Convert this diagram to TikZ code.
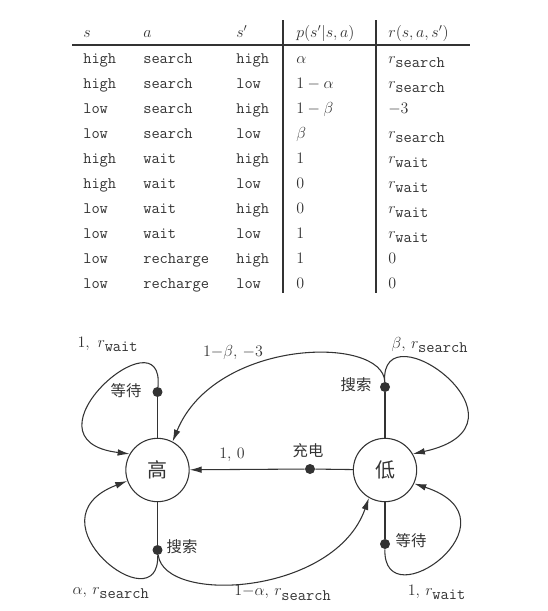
\documentclass[tikz,border=0pt]{standalone}
\usepackage{fontspec}
\usetikzlibrary{arrows.meta}
\newfontfamily\cjk{Noto Sans CJK SC}
\definecolor{ink}{HTML}{333333}
\begin{document}
\begin{tikzpicture}[x=0.75pt,y=-0.75pt,
  every node/.style={text=ink,font=\fontsize{12}{14}\selectfont},
  cell/.style={anchor=base west,inner sep=0pt},
  state/.style={draw=ink,circle,minimum size=47.5pt,inner sep=0pt,line width=0.8pt,font=\cjk\fontsize{15}{16}\selectfont},
  act/.style={circle,fill=ink,minimum size=7.5pt,inner sep=0pt},
  cn/.style={font=\cjk\fontsize{11.5}{13}\selectfont,inner sep=1pt},
  lab/.style={inner sep=1pt},
  conn/.style={draw=ink,line width=0.8pt},
  arr/.style={conn,-{Latex[length=9pt,width=5pt]}}
]
\useasboundingbox (0,0) rectangle (548,611);
% ---------- table ----------
\draw[conn] (72,45) -- (470,45);
\draw[conn] (283,20) -- (283,293);
\draw[conn] (376,20) -- (376,293);
\node[cell] (th1) at (83,37) {$s$};
\node[cell] (th2) at (143,37) {$a$};
\node[cell] (th3) at (236,37) {$s'$};
\node[cell] (th4) at (296,37) {$p(s'|s,a)$};
\node[cell] (th5) at (388,37) {$r(s,a,s')$};
\foreach \s/\a/\t/\p/\r [count=\i] in {
  high/search/high/$\alpha$/$r_{\texttt{search}}$,
  high/search/low/$1-\alpha$/$r_{\texttt{search}}$,
  low/search/high/$1-\beta$/$-3$,
  low/search/low/$\beta$/$r_{\texttt{search}}$,
  high/wait/high/$1$/$r_{\texttt{wait}}$,
  high/wait/low/$0$/$r_{\texttt{wait}}$,
  low/wait/high/$0$/$r_{\texttt{wait}}$,
  low/wait/low/$1$/$r_{\texttt{wait}}$,
  low/recharge/high/$1$/$0$,
  low/recharge/low/$0$/$0$}{
  \pgfmathsetmacro{\yy}{63+25*(\i-1)}
  \node[cell] (r\i c1) at (83,\yy) {\texttt{\s}};
  \node[cell] (r\i c2) at (143,\yy) {\texttt{\a}};
  \node[cell] (r\i c3) at (236,\yy) {\texttt{\t}};
  \node[cell] (r\i c4) at (296,\yy) {\p};
  \node[cell] (r\i c5) at (388,\yy) {\r};
}
% ---------- diagram ----------
\node[state] (H) at (157.5,470) {高};
\node[state] (L) at (385,470) {低};
\node[act] (d1) at (157.5,392) {};
\node[act] (d2) at (385,387) {};
\node[act] (d3) at (310,469) {};
\node[act] (d4) at (157.5,550) {};
\node[act] (d5) at (385,544) {};
% lines state -> action
\draw[conn] (H) -- (d1);
\draw[conn] (L) -- (d2);
\draw[conn] (L) -- (d3);
\draw[conn] (H) -- (d4);
\draw[conn] (L) -- (d5);
% transitions
\draw[arr] (d1) .. controls (165,310) and (15,440) .. (H.150);
\draw[arr] (d2) .. controls (383,335) and (215,338) .. (H.62);
\draw[arr] (d2) .. controls (380,305) and (545,425) .. (L.30);
\draw[arr] (d3) -- (H);
\draw[arr] (d4) .. controls (160,625) and (25,520) .. (H.200);
\draw[arr] (d4) .. controls (165,605) and (335,595) .. (L.240);
\draw[arr] (d5) .. controls (383,622) and (525,520) .. (L.335);
% labels
\node[lab] (l1) at (108,344) {$1,\ r_{\texttt{wait}}$};
\node[lab] (l2) at (233,352) {$1{-}\beta,\,-3$};
\node[lab] (l3) at (430,345) {$\beta,\,r_{\texttt{search}}$};
\node[lab] (l4) at (232,455) {1,\ 0};
\node[lab] (l5) at (111,593) {$\alpha,\,r_{\texttt{search}}$};
\node[lab] (l6) at (283,593) {$1{-}\alpha,\,r_{\texttt{search}}$};
\node[lab] (l7) at (437,592) {$1,\,r_{\texttt{wait}}$};
\node[cn] (c1) at (126,391) {等待};
\node[cn] (c2) at (356,385) {搜索};
\node[cn] (c3) at (308,451) {充电};
\node[cn] (c4) at (182,547) {搜索};
\node[cn] (c5) at (411,541) {等待};
\end{tikzpicture}
\end{document}
